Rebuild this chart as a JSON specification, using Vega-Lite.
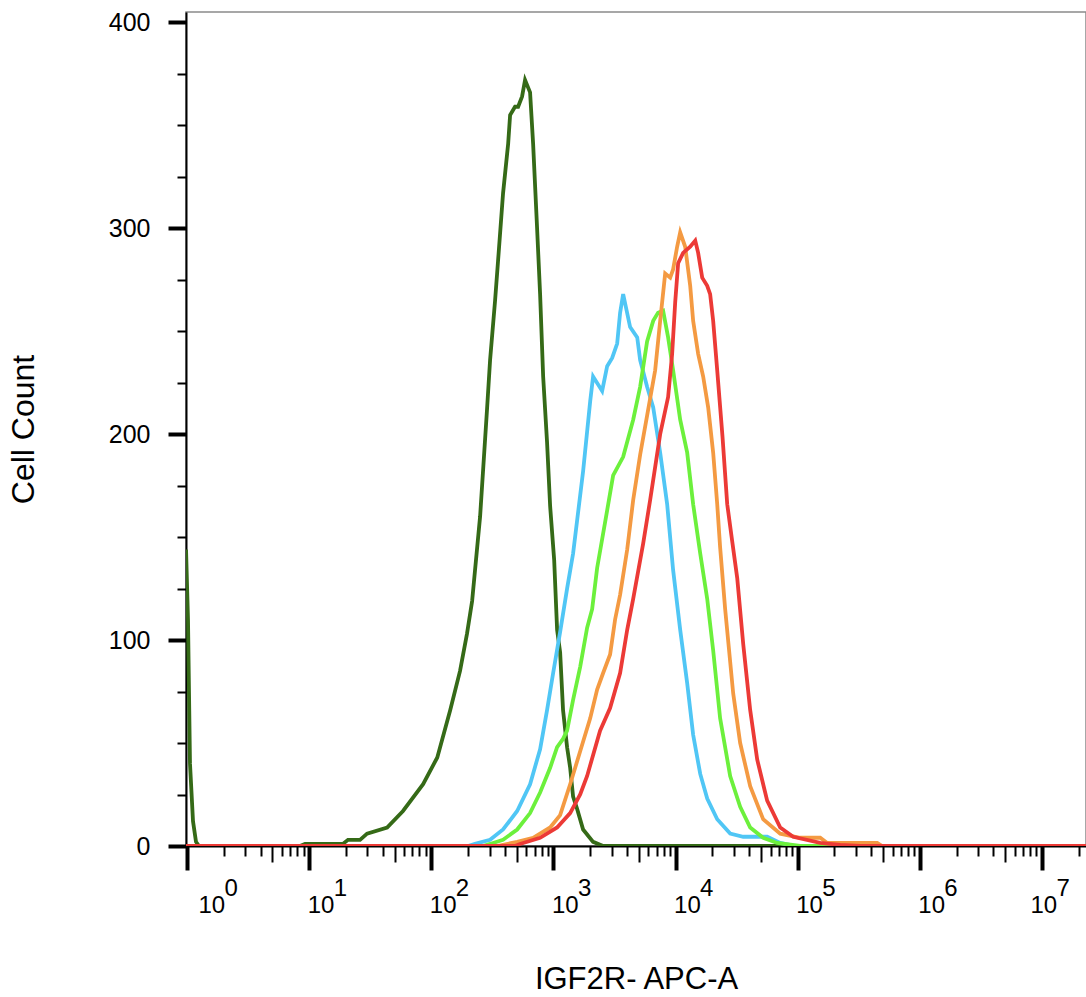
{
  "$schema": "https://vega.github.io/schema/vega-lite/v6.json",
  "width": 900,
  "height": 834,
  "autosize": {"type": "none"},
  "padding": {"left": 186, "top": 12, "right": 0, "bottom": 151},
  "background": "white",
  "config": {
    "font": "Liberation Sans",
    "view": {"stroke": "#8a8a8a", "strokeWidth": 1.5},
    "axis": {"grid": false}
  },
  "datasets": {
    "hist": [
      {"series": "S1", "intensity": 0.982, "count": 144}, {"series": "S1", "intensity": 1.019, "count": 110}, {"series": "S1", "intensity": 1.058, "count": 40}, {"series": "S1", "intensity": 1.12, "count": 12}, {"series": "S1", "intensity": 1.185, "count": 2}, {"series": "S1", "intensity": 1.254, "count": 0}, {"series": "S1", "intensity": 8.42, "count": 0}, {"series": "S1", "intensity": 9.25, "count": 1}, {"series": "S1", "intensity": 18.9, "count": 1}, {"series": "S1", "intensity": 20.8, "count": 3}, {"series": "S1", "intensity": 26.1, "count": 3}, {"series": "S1", "intensity": 29.8, "count": 6}, {"series": "S1", "intensity": 43.5, "count": 9}, {"series": "S1", "intensity": 58.7, "count": 17}, {"series": "S1", "intensity": 85.7, "count": 30}, {"series": "S1", "intensity": 112, "count": 43}, {"series": "S1", "intensity": 143, "count": 66}, {"series": "S1", "intensity": 172, "count": 85}, {"series": "S1", "intensity": 196, "count": 103}, {"series": "S1", "intensity": 216, "count": 119}, {"series": "S1", "intensity": 251, "count": 160}, {"series": "S1", "intensity": 286, "count": 212}, {"series": "S1", "intensity": 303, "count": 236}, {"series": "S1", "intensity": 333, "count": 265}, {"series": "S1", "intensity": 352, "count": 284}, {"series": "S1", "intensity": 387, "count": 317}, {"series": "S1", "intensity": 426, "count": 341}, {"series": "S1", "intensity": 442, "count": 355}, {"series": "S1", "intensity": 485, "count": 359}, {"series": "S1", "intensity": 514, "count": 359}, {"series": "S1", "intensity": 554, "count": 364}, {"series": "S1", "intensity": 586, "count": 372}, {"series": "S1", "intensity": 644, "count": 366}, {"series": "S1", "intensity": 682, "count": 341}, {"series": "S1", "intensity": 735, "count": 300}, {"series": "S1", "intensity": 778, "count": 268}, {"series": "S1", "intensity": 824, "count": 228}, {"series": "S1", "intensity": 887, "count": 196}, {"series": "S1", "intensity": 940, "count": 165}, {"series": "S1", "intensity": 1014, "count": 139}, {"series": "S1", "intensity": 1072, "count": 105}, {"series": "S1", "intensity": 1135, "count": 94}, {"series": "S1", "intensity": 1199, "count": 66}, {"series": "S1", "intensity": 1294, "count": 48}, {"series": "S1", "intensity": 1371, "count": 38}, {"series": "S1", "intensity": 1449, "count": 24}, {"series": "S1", "intensity": 1563, "count": 18}, {"series": "S1", "intensity": 1750, "count": 8}, {"series": "S1", "intensity": 2113, "count": 2}, {"series": "S1", "intensity": 2553, "count": 0}, {"series": "S1", "intensity": 22900000, "count": 0},

      {"series": "S2", "intensity": 0.982, "count": 0}, {"series": "S2", "intensity": 200, "count": 0}, {"series": "S2", "intensity": 228, "count": 1}, {"series": "S2", "intensity": 303, "count": 3}, {"series": "S2", "intensity": 387, "count": 8}, {"series": "S2", "intensity": 505, "count": 17}, {"series": "S2", "intensity": 644, "count": 30}, {"series": "S2", "intensity": 778, "count": 47}, {"series": "S2", "intensity": 887, "count": 66}, {"series": "S2", "intensity": 995, "count": 84}, {"series": "S2", "intensity": 1135, "count": 104}, {"series": "S2", "intensity": 1294, "count": 125}, {"series": "S2", "intensity": 1449, "count": 142}, {"series": "S2", "intensity": 1750, "count": 182}, {"series": "S2", "intensity": 2000, "count": 216}, {"series": "S2", "intensity": 2113, "count": 228}, {"series": "S2", "intensity": 2506, "count": 221}, {"series": "S2", "intensity": 2754, "count": 233}, {"series": "S2", "intensity": 3027, "count": 237}, {"series": "S2", "intensity": 3326, "count": 244}, {"series": "S2", "intensity": 3516, "count": 259}, {"series": "S2", "intensity": 3724, "count": 268}, {"series": "S2", "intensity": 4246, "count": 252}, {"series": "S2", "intensity": 4853, "count": 247}, {"series": "S2", "intensity": 5129, "count": 236}, {"series": "S2", "intensity": 5848, "count": 223}, {"series": "S2", "intensity": 6561, "count": 213}, {"series": "S2", "intensity": 7482, "count": 191}, {"series": "S2", "intensity": 8535, "count": 166}, {"series": "S2", "intensity": 9550, "count": 134}, {"series": "S2", "intensity": 10910, "count": 105}, {"series": "S2", "intensity": 12450, "count": 79}, {"series": "S2", "intensity": 13930, "count": 54}, {"series": "S2", "intensity": 15920, "count": 35}, {"series": "S2", "intensity": 18160, "count": 23}, {"series": "S2", "intensity": 21930, "count": 13}, {"series": "S2", "intensity": 27990, "count": 6}, {"series": "S2", "intensity": 35810, "count": 4.5}, {"series": "S2", "intensity": 56230, "count": 4.5}, {"series": "S2", "intensity": 71940, "count": 1.5}, {"series": "S2", "intensity": 95500, "count": 0}, {"series": "S2", "intensity": 22900000, "count": 0},

      {"series": "S3", "intensity": 0.982, "count": 0}, {"series": "S3", "intensity": 265, "count": 0}, {"series": "S3", "intensity": 303, "count": 1}, {"series": "S3", "intensity": 387, "count": 3}, {"series": "S3", "intensity": 505, "count": 8}, {"series": "S3", "intensity": 644, "count": 16}, {"series": "S3", "intensity": 778, "count": 26}, {"series": "S3", "intensity": 940, "count": 38}, {"series": "S3", "intensity": 1072, "count": 48}, {"series": "S3", "intensity": 1199, "count": 52}, {"series": "S3", "intensity": 1294, "count": 56}, {"series": "S3", "intensity": 1449, "count": 71}, {"series": "S3", "intensity": 1656, "count": 87}, {"series": "S3", "intensity": 1888, "count": 106}, {"series": "S3", "intensity": 2075, "count": 115}, {"series": "S3", "intensity": 2280, "count": 135}, {"series": "S3", "intensity": 2754, "count": 163}, {"series": "S3", "intensity": 3083, "count": 180}, {"series": "S3", "intensity": 3724, "count": 189}, {"series": "S3", "intensity": 4498, "count": 207}, {"series": "S3", "intensity": 5129, "count": 223}, {"series": "S3", "intensity": 5848, "count": 245}, {"series": "S3", "intensity": 6561, "count": 255}, {"series": "S3", "intensity": 7194, "count": 259}, {"series": "S3", "intensity": 7907, "count": 260}, {"series": "S3", "intensity": 8690, "count": 247}, {"series": "S3", "intensity": 9550, "count": 231}, {"series": "S3", "intensity": 10910, "count": 207}, {"series": "S3", "intensity": 12450, "count": 191}, {"series": "S3", "intensity": 13930, "count": 166}, {"series": "S3", "intensity": 15920, "count": 142}, {"series": "S3", "intensity": 18160, "count": 120}, {"series": "S3", "intensity": 20320, "count": 95}, {"series": "S3", "intensity": 23170, "count": 62}, {"series": "S3", "intensity": 27990, "count": 34}, {"series": "S3", "intensity": 33810, "count": 19}, {"series": "S3", "intensity": 40830, "count": 9}, {"series": "S3", "intensity": 52120, "count": 4}, {"series": "S3", "intensity": 67920, "count": 1.5}, {"series": "S3", "intensity": 104700, "count": 0}, {"series": "S3", "intensity": 22900000, "count": 0},

      {"series": "S4", "intensity": 0.982, "count": 0}, {"series": "S4", "intensity": 346, "count": 0}, {"series": "S4", "intensity": 505, "count": 2}, {"series": "S4", "intensity": 682, "count": 4}, {"series": "S4", "intensity": 940, "count": 9}, {"series": "S4", "intensity": 1135, "count": 15}, {"series": "S4", "intensity": 1371, "count": 30}, {"series": "S4", "intensity": 1656, "count": 46}, {"series": "S4", "intensity": 2000, "count": 62}, {"series": "S4", "intensity": 2280, "count": 76}, {"series": "S4", "intensity": 2553, "count": 84}, {"series": "S4", "intensity": 2911, "count": 93}, {"series": "S4", "intensity": 3199, "count": 110}, {"series": "S4", "intensity": 3516, "count": 122}, {"series": "S4", "intensity": 4018, "count": 144}, {"series": "S4", "intensity": 4498, "count": 168}, {"series": "S4", "intensity": 5129, "count": 190}, {"series": "S4", "intensity": 5848, "count": 209}, {"series": "S4", "intensity": 6808, "count": 231}, {"series": "S4", "intensity": 7482, "count": 255}, {"series": "S4", "intensity": 8222, "count": 278}, {"series": "S4", "intensity": 9036, "count": 276}, {"series": "S4", "intensity": 9550, "count": 280}, {"series": "S4", "intensity": 10300, "count": 291}, {"series": "S4", "intensity": 10910, "count": 298}, {"series": "S4", "intensity": 11990, "count": 291}, {"series": "S4", "intensity": 13180, "count": 272}, {"series": "S4", "intensity": 13930, "count": 255}, {"series": "S4", "intensity": 15310, "count": 239}, {"series": "S4", "intensity": 16830, "count": 228}, {"series": "S4", "intensity": 18490, "count": 213}, {"series": "S4", "intensity": 20320, "count": 191}, {"series": "S4", "intensity": 21930, "count": 166}, {"series": "S4", "intensity": 23170, "count": 145}, {"series": "S4", "intensity": 25470, "count": 115}, {"series": "S4", "intensity": 29650, "count": 74}, {"series": "S4", "intensity": 33810, "count": 50}, {"series": "S4", "intensity": 40830, "count": 29}, {"series": "S4", "intensity": 52120, "count": 13}, {"series": "S4", "intensity": 71940, "count": 6}, {"series": "S4", "intensity": 104700, "count": 4}, {"series": "S4", "intensity": 152800, "count": 4}, {"series": "S4", "intensity": 174500, "count": 1.5}, {"series": "S4", "intensity": 447700, "count": 1.5}, {"series": "S4", "intensity": 492000, "count": 0}, {"series": "S4", "intensity": 22900000, "count": 0},

      {"series": "S5", "intensity": 0.982, "count": 0}, {"series": "S5", "intensity": 485, "count": 0}, {"series": "S5", "intensity": 533, "count": 1}, {"series": "S5", "intensity": 778, "count": 4}, {"series": "S5", "intensity": 1072, "count": 9}, {"series": "S5", "intensity": 1371, "count": 16}, {"series": "S5", "intensity": 1656, "count": 25}, {"series": "S5", "intensity": 1888, "count": 34}, {"series": "S5", "intensity": 2410, "count": 56}, {"series": "S5", "intensity": 2911, "count": 67}, {"series": "S5", "intensity": 3516, "count": 84}, {"series": "S5", "intensity": 4018, "count": 105}, {"series": "S5", "intensity": 4498, "count": 120}, {"series": "S5", "intensity": 5433, "count": 147}, {"series": "S5", "intensity": 6194, "count": 168}, {"series": "S5", "intensity": 7482, "count": 200}, {"series": "S5", "intensity": 8690, "count": 218}, {"series": "S5", "intensity": 9376, "count": 239}, {"series": "S5", "intensity": 9931, "count": 264}, {"series": "S5", "intensity": 10500, "count": 283}, {"series": "S5", "intensity": 11530, "count": 288}, {"series": "S5", "intensity": 13180, "count": 291}, {"series": "S5", "intensity": 14490, "count": 294}, {"series": "S5", "intensity": 15310, "count": 288}, {"series": "S5", "intensity": 16520, "count": 276}, {"series": "S5", "intensity": 18160, "count": 272}, {"series": "S5", "intensity": 19190, "count": 268}, {"series": "S5", "intensity": 20320, "count": 255}, {"series": "S5", "intensity": 21930, "count": 231}, {"series": "S5", "intensity": 24210, "count": 199}, {"series": "S5", "intensity": 26480, "count": 166}, {"series": "S5", "intensity": 29090, "count": 148}, {"series": "S5", "intensity": 31990, "count": 130}, {"series": "S5", "intensity": 35810, "count": 98}, {"series": "S5", "intensity": 40830, "count": 66}, {"series": "S5", "intensity": 46590, "count": 42}, {"series": "S5", "intensity": 56230, "count": 22}, {"series": "S5", "intensity": 71940, "count": 9}, {"series": "S5", "intensity": 91830, "count": 4.5}, {"series": "S5", "intensity": 152800, "count": 1.5}, {"series": "S5", "intensity": 222800, "count": 0.5}, {"series": "S5", "intensity": 325100, "count": 0}, {"series": "S5", "intensity": 22900000, "count": 0}
    ]
  },
  "data": {"name": "hist"},
  "layer": [
    {
      "mark": {"type": "line", "strokeWidth": 3.8, "clip": true, "interpolate": "linear"},
      "encoding": {
        "x": {
          "field": "intensity", "type": "quantitative",
          "scale": {"type": "log", "domain": [0.9813, 22930000], "nice": false},
          "axis": {
            "orient": "bottom",
            "values": [1, 10, 100, 1000, 10000, 100000, 1000000, 10000000],
            "tickSize": 24, "tickWidth": 4, "tickColor": "black",
            "domainColor": "black", "domainWidth": 2,
            "labelExpr": "'10'",
            "labelFont": "Liberation Sans", "labelFontSize": 24, "labelColor": "black",
            "labelAlign": "left", "labelBaseline": "top", "labelPadding": 23,
            "labelOffset": {"condition": [{"test": "datum.value < 2", "value": 11}, {"test": "datum.value > 5000000", "value": -12}], "value": -2},
            "labelOverlap": false, "labelFlush": false, "labelBound": false,
            "title": "IGF2R- APC-A", "titleFont": "Liberation Sans", "titleFontSize": 31, "titleFontWeight": "normal", "titleColor": "black", "titlePadding": 47
          }
        },
        "y": {
          "field": "count", "type": "quantitative",
          "scale": {"domain": [0, 405], "nice": false, "zero": true},
          "axis": {
            "orient": "left",
            "values": [0, 100, 200, 300, 400],
            "tickSize": 18, "tickWidth": 4, "tickColor": "black",
            "domainColor": "black", "domainWidth": 2,
            "labelFont": "Liberation Sans", "labelFontSize": 25, "labelColor": "black", "labelPadding": 18,
            "title": "Cell Count", "titleFont": "Liberation Sans", "titleFontSize": 32, "titleFontWeight": "normal", "titleColor": "black", "titlePadding": 68
          }
        },
        "color": {
          "field": "series", "type": "nominal",
          "scale": {"domain": ["S1", "S2", "S3", "S4", "S5"], "range": ["#356a17", "#50c6f5", "#6cf03c", "#f49a42", "#ec3a36"]},
          "legend": null
        }
      }
    },
    {
      "mark": {"type": "line", "opacity": 0},
      "encoding": {
        "x": {
          "field": "intensity", "type": "quantitative",
          "axis": {
            "orient": "bottom",
            "values": [1, 10, 100, 1000, 10000, 100000, 1000000, 10000000],
            "domain": false, "tickSize": 24, "tickWidth": 1, "tickOpacity": 0,
            "labelExpr": "'' + round(log(datum.value) / LN10)",
            "labelFont": "Liberation Sans", "labelFontSize": 24, "labelColor": "black",
            "labelAlign": "left", "labelBaseline": "top", "labelPadding": 6,
            "labelOffset": {"condition": [{"test": "datum.value < 2", "value": 37}, {"test": "datum.value > 5000000", "value": 14}], "value": 24},
            "labelOverlap": false, "labelFlush": false, "labelBound": false,
            "title": null
          }
        },
        "y": {
          "field": "count", "type": "quantitative",
          "axis": {
            "orient": "left",
            "values": [25, 50, 75, 125, 150, 175, 225, 250, 275, 325, 350, 375],
            "labels": false, "domain": false, "tickSize": 9, "tickWidth": 2, "tickColor": "black", "title": null
          }
        },
        "detail": {"field": "series"}
      }
    },
    {
      "mark": {"type": "line", "opacity": 0},
      "encoding": {
        "x": {
          "field": "intensity", "type": "quantitative",
          "axis": {
            "orient": "bottom",
            "values": [2, 3, 4, 6, 7, 8, 9, 20, 30, 40, 60, 70, 80, 90, 200, 300, 400, 600, 700, 800, 900, 2000, 3000, 4000, 6000, 7000, 8000, 9000, 20000, 30000, 40000, 60000, 70000, 80000, 90000, 200000, 300000, 400000, 600000, 700000, 800000, 900000, 2000000, 3000000, 4000000, 6000000, 7000000, 8000000, 9000000, 20000000],
            "labels": false, "domain": false, "tickSize": 10, "tickWidth": 2, "tickColor": "black", "title": null
          }
        },
        "y": {"field": "count", "type": "quantitative", "axis": null},
        "detail": {"field": "series"}
      }
    },
    {
      "mark": {"type": "line", "opacity": 0},
      "encoding": {
        "x": {
          "field": "intensity", "type": "quantitative",
          "axis": {
            "orient": "bottom",
            "values": [5, 50, 500, 5000, 50000, 500000, 5000000],
            "labels": false, "domain": false, "tickSize": 16, "tickWidth": 2, "tickColor": "black", "title": null
          }
        },
        "y": {"field": "count", "type": "quantitative", "axis": null},
        "detail": {"field": "series"}
      }
    }
  ],
  "resolve": {"axis": {"x": "independent", "y": "independent"}}
}
